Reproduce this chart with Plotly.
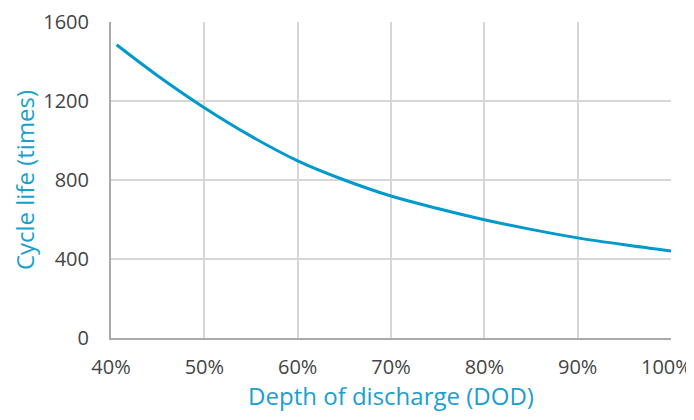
import plotly.graph_objects as go

dod = [40.6, 45, 50, 55, 60, 65, 70, 75, 80, 85, 90, 95, 100]
cycles = [1485, 1328, 1166, 1022, 897, 800, 719, 656, 599, 550, 507, 472, 441]

x_ticks = [40, 50, 60, 70, 80, 90]
x_labels = ["40%", "50%", "60%", "70%", "80%", "90%"]
x_end_tick = 100
x_end_label = "100%"
y_ticks = [0, 400, 800, 1200, 1600]
x_grid = [50, 60, 70, 80, 90]
y_grid = [400, 800, 1200]

font = "Open Sans"
tick_font = dict(family=font, size=20, color="#444444")
title_color = "#1a9fd0"

fig = go.Figure()
# invisible trace to activate grid axes
fig.add_trace(go.Scatter(x=[40, 100], y=[0, 1600], xaxis="x2", yaxis="y2",
                         mode="markers", marker=dict(opacity=0), showlegend=False, hoverinfo="skip"))
fig.add_trace(go.Scatter(x=dod, y=cycles, mode="lines",
                         line=dict(color="#0099cc", width=3, shape="spline", smoothing=1.0),
                         hoverinfo="skip", showlegend=False))

# last tick label, nudged left so it stays inside the page
fig.add_annotation(x=x_end_tick, xref="x", y=0, yref="paper", text=x_end_label,
                   showarrow=False, xanchor="center", yanchor="middle",
                   xshift=-5, yshift=-28, font=tick_font)

# page body has an 8px default margin: compensate (and avoid vertical overflow)
fig.update_layout(
    width=686, height=404,
    margin=dict(l=103, r=23, t=14, b=74),
    paper_bgcolor="white", plot_bgcolor="white",
    xaxis=dict(range=[40, 100], tickvals=x_ticks, ticktext=x_labels,
               showgrid=False, zeroline=False, showline=True, linecolor="#aaaaaa", linewidth=2,
               ticks="", tickfont=tick_font, ticklabelstandoff=10, automargin=False,
               ticklabeloverflow="allow", layer="above traces",
               title=dict(text="Depth of discharge (DOD)", font=dict(family=font, size=24, color=title_color), standoff=25)),
    yaxis=dict(range=[0, 1600], tickvals=y_ticks, showgrid=False, zeroline=False,
               showline=True, linecolor="#aaaaaa", linewidth=2, ticks="", tickfont=tick_font,
               ticklabelstandoff=16, automargin=False, ticklabeloverflow="allow", layer="above traces",
               title=dict(text="Cycle life (times)", font=dict(family=font, size=24, color=title_color), standoff=14)),
    xaxis2=dict(range=[40, 100], overlaying="x", tickvals=x_grid, showticklabels=False,
                showgrid=True, gridcolor="#d6d6d6", gridwidth=1.5, zeroline=False, showline=False,
                automargin=False),
    yaxis2=dict(range=[0, 1600], overlaying="y", tickvals=y_grid, showticklabels=False,
                showgrid=True, gridcolor="#d6d6d6", gridwidth=1.5, zeroline=False, showline=False,
                automargin=False),
)

fig.write_html("out.html")
